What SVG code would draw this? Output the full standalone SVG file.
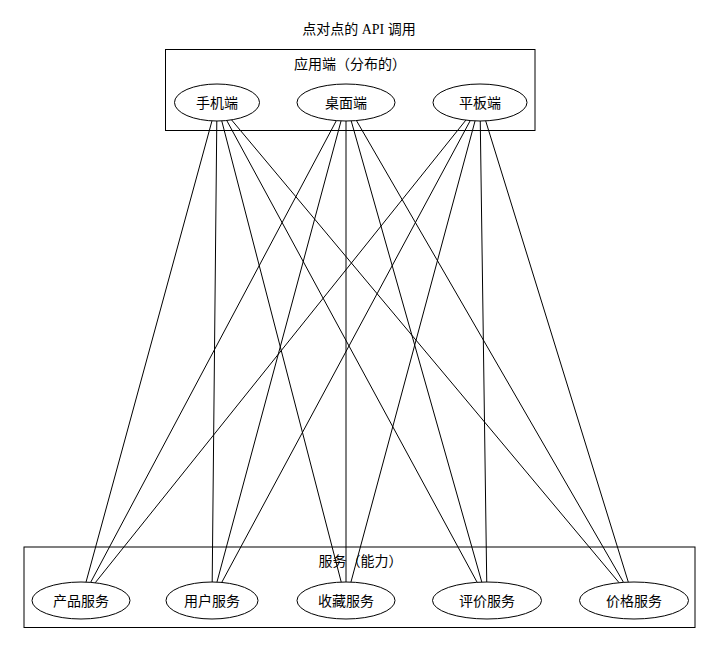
<svg xmlns="http://www.w3.org/2000/svg" width="720" height="652" viewBox="0 0 720 652">
<style>
text{font-family:"Liberation Serif","Noto Sans CJK SC",serif;font-size:14px;fill:#000;text-anchor:middle}
.cl{fill:none;stroke:#000;stroke-width:1}
.nd{fill:none;stroke:#000;stroke-width:1}
.ed line{stroke:#000;stroke-width:1}
</style>
<rect width="720" height="652" fill="#fff"/>
<text id="title" x="359" y="34">点对点的 API 调用</text>
<g id="cluster_app">
<rect class="cl" x="165.5" y="49.5" width="369.5" height="81"/>
<text x="350" y="69">应用端（分布的）</text>
</g>
<g id="cluster_svc">
<rect class="cl" x="24" y="547" width="671" height="80.5"/>
<text x="360.5" y="566">服务（能力）</text>
</g>
<g id="edges" class="ed">
<line x1="211.98" y1="120.87" x2="86.03" y2="582.1"/>
<line x1="216.81" y1="121" x2="212.19" y2="582"/>
<line x1="221.76" y1="120.88" x2="341.23" y2="582.09"/>
<line x1="226.76" y1="120.5" x2="477.14" y2="582.31"/>
<line x1="231.55" y1="119.88" x2="619.1" y2="582.71"/>
<line x1="336.35" y1="120.64" x2="90.65" y2="582.36"/>
<line x1="341.05" y1="120.91" x2="216.95" y2="582.11"/>
<line x1="346" y1="121" x2="346" y2="582"/>
<line x1="351.21" y1="120.89" x2="481.79" y2="582.09"/>
<line x1="356.45" y1="120.57" x2="623.5" y2="582.35"/>
<line x1="465.86" y1="120.14" x2="95.19" y2="582.79"/>
<line x1="470.26" y1="120.6" x2="221.73" y2="582.42"/>
<line x1="475.05" y1="120.9" x2="350.95" y2="582.09"/>
<line x1="480.26" y1="121" x2="486.74" y2="582"/>
<line x1="485.68" y1="120.86" x2="628.31" y2="582.1"/>
</g>
<g id="mobile"><ellipse class="nd" cx="217" cy="102.5" rx="42.5" ry="18.5"/><text x="217" y="107.5">手机端</text></g>
<g id="desktop"><ellipse class="nd" cx="346" cy="102.5" rx="49" ry="18.5"/><text x="346" y="107.5">桌面端</text></g>
<g id="tablet"><ellipse class="nd" cx="480" cy="102.5" rx="47" ry="18.5"/><text x="480" y="107.5">平板端</text></g>
<g id="product"><ellipse class="nd" cx="81" cy="600.5" rx="49" ry="18.5"/><text x="81" y="605.5">产品服务</text></g>
<g id="user"><ellipse class="nd" cx="212" cy="600.5" rx="46" ry="18.5"/><text x="212" y="605.5">用户服务</text></g>
<g id="favorite"><ellipse class="nd" cx="346" cy="600.5" rx="49" ry="18.5"/><text x="346" y="605.5">收藏服务</text></g>
<g id="review"><ellipse class="nd" cx="487" cy="600.5" rx="54.5" ry="18.5"/><text x="487" y="605.5">评价服务</text></g>
<g id="price"><ellipse class="nd" cx="634" cy="600.5" rx="54.5" ry="18.5"/><text x="634" y="605.5">价格服务</text></g>
</svg>
